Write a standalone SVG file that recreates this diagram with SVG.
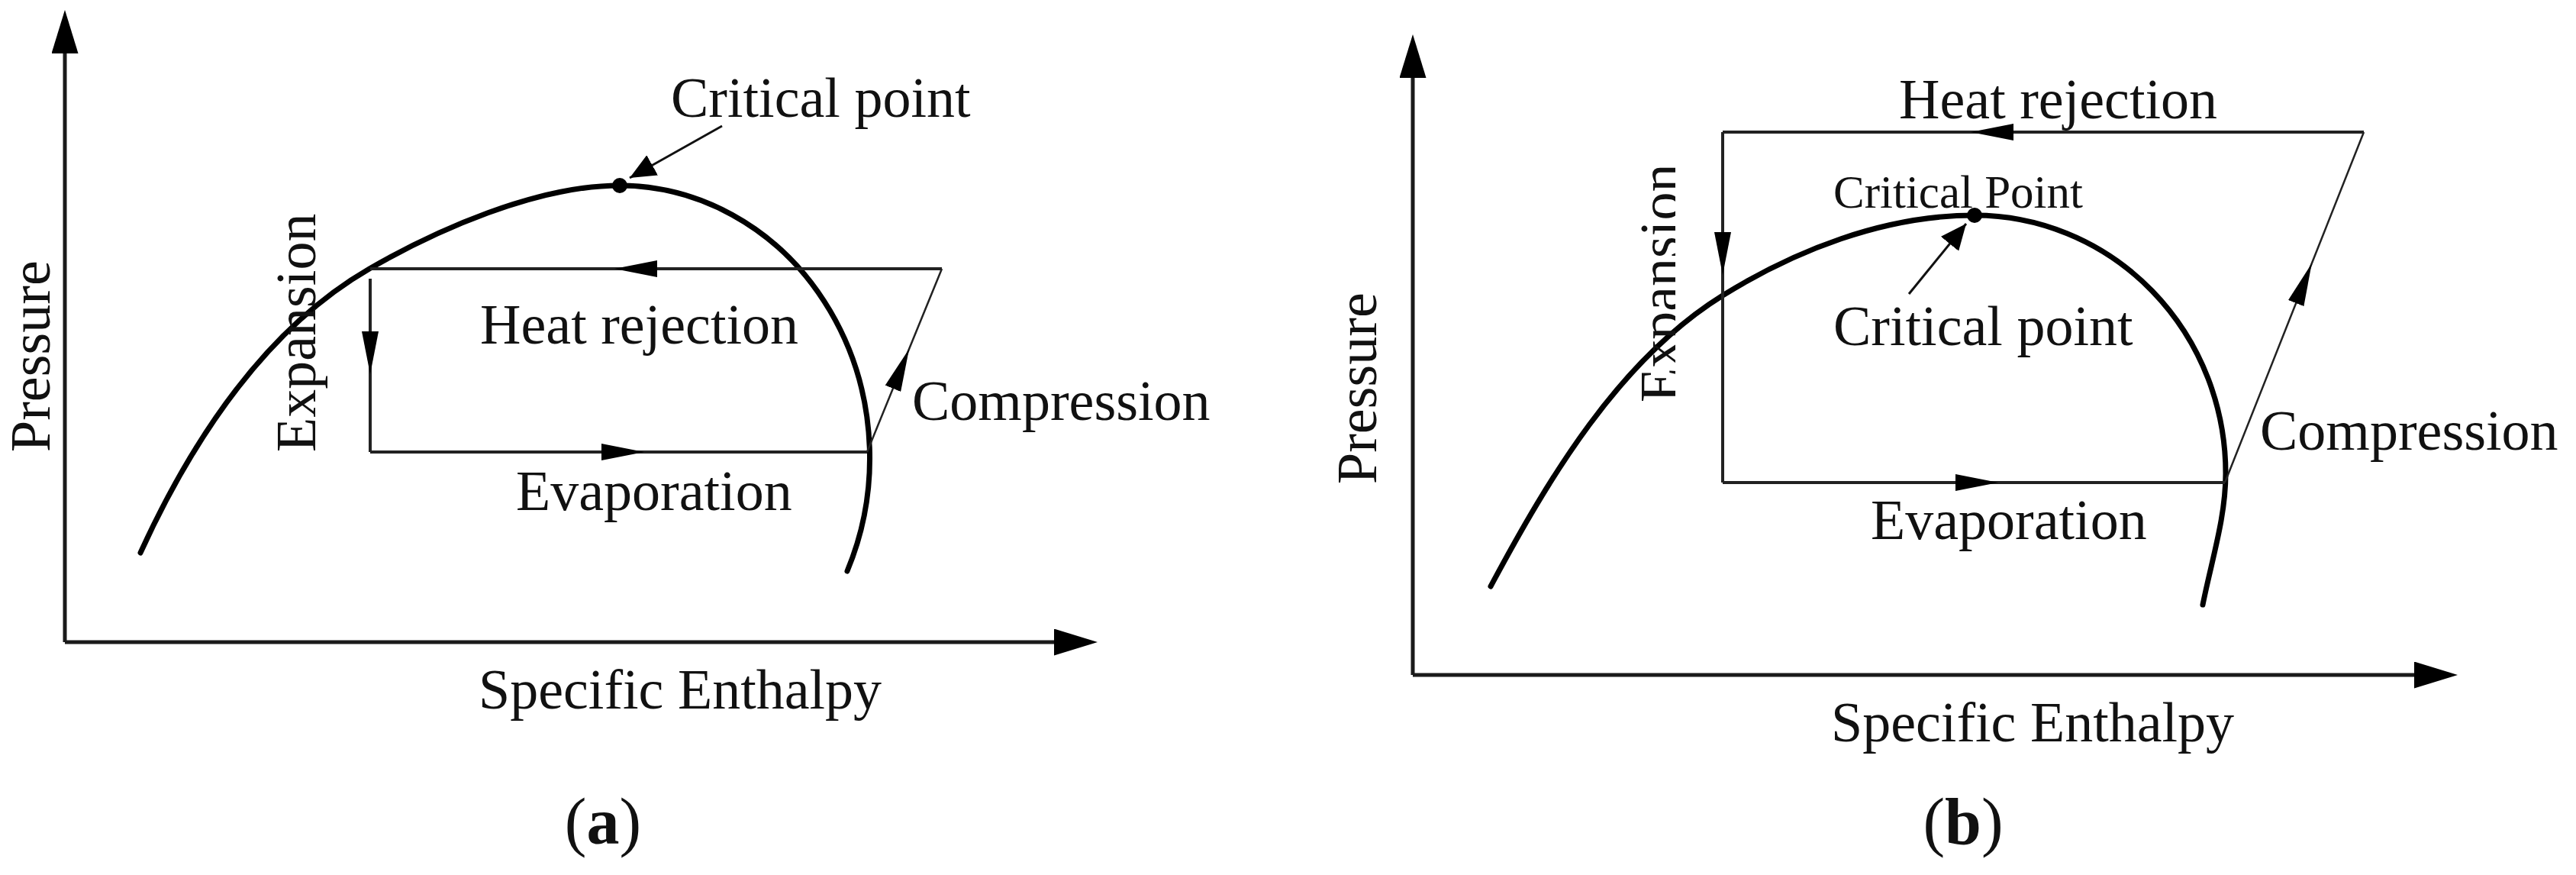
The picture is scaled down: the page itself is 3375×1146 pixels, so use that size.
<svg xmlns="http://www.w3.org/2000/svg" width="3375" height="1146" viewBox="0 0 3375 1146">
<style>
.bg{fill:#ffffff}
.axis{fill:none;stroke:#1a1a1a;stroke-width:5;marker-end:url(#axisHead)}
.dome{fill:none;stroke:#000;stroke-width:7;stroke-linecap:round}
.cycle{fill:none;stroke:#222;stroke-width:4;marker-mid:url(#flowHead)}
.comp{fill:none;stroke:#222;stroke-width:2.5;marker-mid:url(#flowHead)}
.leader{fill:none;stroke:#111;stroke-width:3;marker-end:url(#leadHead)}
.dot{fill:#000}
.lbl{font-family:"Liberation Serif","Times New Roman",serif;font-size:74px;fill:#111}
.small{font-size:61px}
.cap{font-size:86px}
</style>
<defs>
<marker id="axisHead" markerUnits="userSpaceOnUse" viewBox="0 0 57 35" refX="0" refY="17.5" markerWidth="57" markerHeight="35" orient="auto"><path d="M0,0 L57,17.5 L0,35 z" fill="#000"/></marker>
<marker id="flowHead" markerUnits="userSpaceOnUse" viewBox="0 0 56 22" refX="56" refY="11" markerWidth="56" markerHeight="22" orient="auto"><path d="M0,0 L56,11 L0,22 z" fill="#000"/></marker>
<marker id="leadHead" markerUnits="userSpaceOnUse" viewBox="0 0 34 30" refX="34" refY="15" markerWidth="34" markerHeight="30" orient="auto"><path d="M0,0 L34,15 L0,30 z" fill="#000"/></marker>
<clipPath id="expClip"><rect x="2100" y="150" width="95" height="420"/></clipPath>
</defs>
<rect class="bg" x="0" y="0" width="3375" height="1146"/>

<g id="panel-a">
  <g id="a-axes">
    <path class="axis" d="M85,841 L85,70"/>
    <path class="axis" d="M85,841 L1381,841"/>
  </g>
  <g id="a-dome">
    <path class="dome" d="M184,724 C250.6,578.6 345.4,432 484,352 C570.6,302 702,243 812,243 A328,357 0 0 1 1110,748"/>
  </g>
  <g id="a-critical-point">
    <circle class="dot" cx="812" cy="243" r="10"/>
  </g>
  <g id="a-connectors">
    <path id="a-heat-rejection" class="cycle" d="M1234,352 L805,352 L485,352"/>
    <path id="a-expansion" class="cycle" d="M485,365 L485,490 L485,592"/>
    <path id="a-evaporation" class="cycle" d="M485,592 L844,592 L1136,592"/>
    <path id="a-compression" class="comp" d="M1136,592 L1191.1,457 L1234,352"/>
    <path id="a-cp-leader" class="leader" d="M946,165 L825,233"/>
  </g>
  <g id="a-labels">
    <text class="lbl" x="879" y="153">Critical point</text>
    <text class="lbl" x="629" y="450">Heat rejection</text>
    <text class="lbl" x="1195" y="550">Compression</text>
    <text class="lbl" x="676" y="668">Evaporation</text>
    <text class="lbl" x="627" y="928">Specific Enthalpy</text>
    <text class="lbl" transform="translate(65,592) rotate(-90)">Pressure</text>
    <text class="lbl" transform="translate(413,592) rotate(-90)">Expansion</text>
    <text class="lbl cap" x="790" y="1105" text-anchor="middle">(<tspan font-weight="bold">a</tspan>)</text>
  </g>
</g>

<g id="panel-b">
  <g id="b-axes">
    <path class="axis" d="M1851,884 L1851,102"/>
    <path class="axis" d="M1851,884 L3163,884"/>
  </g>
  <g id="b-dome">
    <path class="dome" d="M1953,768 C2028.5,627 2121,471.3 2257,387 C2350.5,329 2467,282 2587,282 A329,338 0 0 1 2916,620 C2916,678 2898,732 2886,792"/>
  </g>
  <g id="b-critical-point">
    <circle class="dot" cx="2587" cy="282" r="10"/>
  </g>
  <g id="b-connectors">
    <path id="b-heat-rejection" class="cycle" d="M3097,173 L2582,173 L2257,173"/>
    <path id="b-expansion" class="cycle" d="M2257,173 L2257,360 L2257,632"/>
    <path id="b-evaporation" class="cycle" d="M2257,632 L2618,632 L2915,632"/>
    <path id="b-compression" class="comp" d="M2915,632 L3028.8,345 L3097,173"/>
    <path id="b-cp-leader" class="leader" d="M2501,385 L2576,293"/>
  </g>
  <g id="b-labels">
    <text class="lbl" x="2488" y="155">Heat rejection</text>
    <text class="lbl small" x="2402" y="272">Critical Point</text>
    <text class="lbl" x="2402" y="452">Critical point</text>
    <text class="lbl" x="2961" y="589">Compression</text>
    <text class="lbl" x="2451" y="706">Evaporation</text>
    <text class="lbl" x="2399" y="971">Specific Enthalpy</text>
    <text class="lbl" transform="translate(1803,634) rotate(-90)">Pressure</text>
    <g clip-path="url(#expClip)">
      <text class="lbl" transform="translate(2200,527) rotate(-90)">Expansion</text>
    </g>
    <text class="lbl cap" x="2572" y="1105" text-anchor="middle">(<tspan font-weight="bold">b</tspan>)</text>
  </g>
</g>
</svg>
